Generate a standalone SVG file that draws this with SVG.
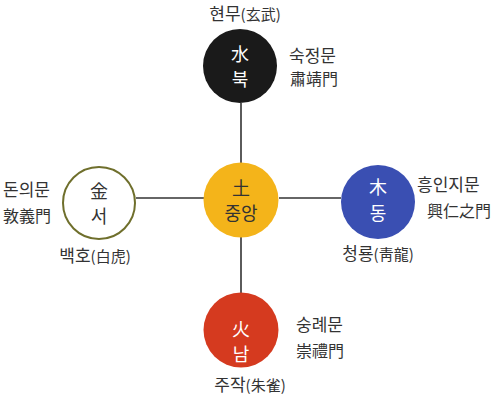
<svg xmlns="http://www.w3.org/2000/svg" width="500" height="400" viewBox="0 0 500 400">
<style>
text{font-family:"Noto Sans CJK KR","Noto Sans CJK SC",sans-serif;fill:#333}
.in{font-size:18px;text-anchor:middle}
.w{fill:#fff}
.gate{font-size:17px}
.gh{font-size:16px}
.nm{font-size:17px;text-anchor:middle}
.nm tspan.h{font-size:15px}
.conn line{stroke:#333;stroke-width:1.6}
</style>
<rect width="500" height="400" fill="#fff"/>
<g id="connectors" class="conn">
<line x1="241" y1="103" x2="241" y2="163"/>
<line x1="241" y1="237" x2="241" y2="293"/>
<line x1="136" y1="198" x2="204" y2="198"/>
<line x1="279" y1="198" x2="341" y2="198"/>
</g>
<g id="north">
<circle cx="240" cy="66" r="37" fill="#1a1a1a"/>
<text class="in w" x="240" y="61">水</text>
<text class="in w" x="240" y="86">북</text>
<text class="nm" x="245" y="20">현무<tspan class="h">(玄武)</tspan></text>
<text class="gate" x="289" y="62">숙정문</text>
<text class="gh" x="290" y="85">肅靖門</text>
</g>
<g id="center">
<circle cx="241" cy="200" r="37.5" fill="#f4b41a"/>
<text class="in" x="241" y="195">土</text>
<text class="in" x="241" y="220">중앙</text>
</g>
<g id="west">
<circle cx="99" cy="203" r="36" fill="#fff" stroke="#6f6f2c" stroke-width="2"/>
<text class="in" x="99" y="198">金</text>
<text class="in" x="99" y="223">서</text>
<text class="gate" x="3" y="196">돈의문</text>
<text class="gh" x="3" y="222">敦義門</text>
<text class="nm" x="95" y="262">백호<tspan class="h">(白虎)</tspan></text>
</g>
<g id="east">
<circle cx="378" cy="202" r="37" fill="#3a4fb2"/>
<text class="in w" x="378" y="194">木</text>
<text class="in w" x="378" y="220">동</text>
<text class="gate" x="417" y="191">흥인지문</text>
<text class="gh" x="427" y="217">興仁之門</text>
<text class="nm" x="378" y="260">청룡<tspan class="h">(靑龍)</tspan></text>
</g>
<g id="south">
<circle cx="241" cy="330" r="37.5" fill="#d53a1f"/>
<text class="in w" x="241" y="336">火</text>
<text class="in w" x="241" y="361">남</text>
<text class="gate" x="296" y="331">숭례문</text>
<text class="gh" x="296" y="357">崇禮門</text>
<text class="nm" x="250" y="391">주작<tspan class="h">(朱雀)</tspan></text>
</g>
</svg>
